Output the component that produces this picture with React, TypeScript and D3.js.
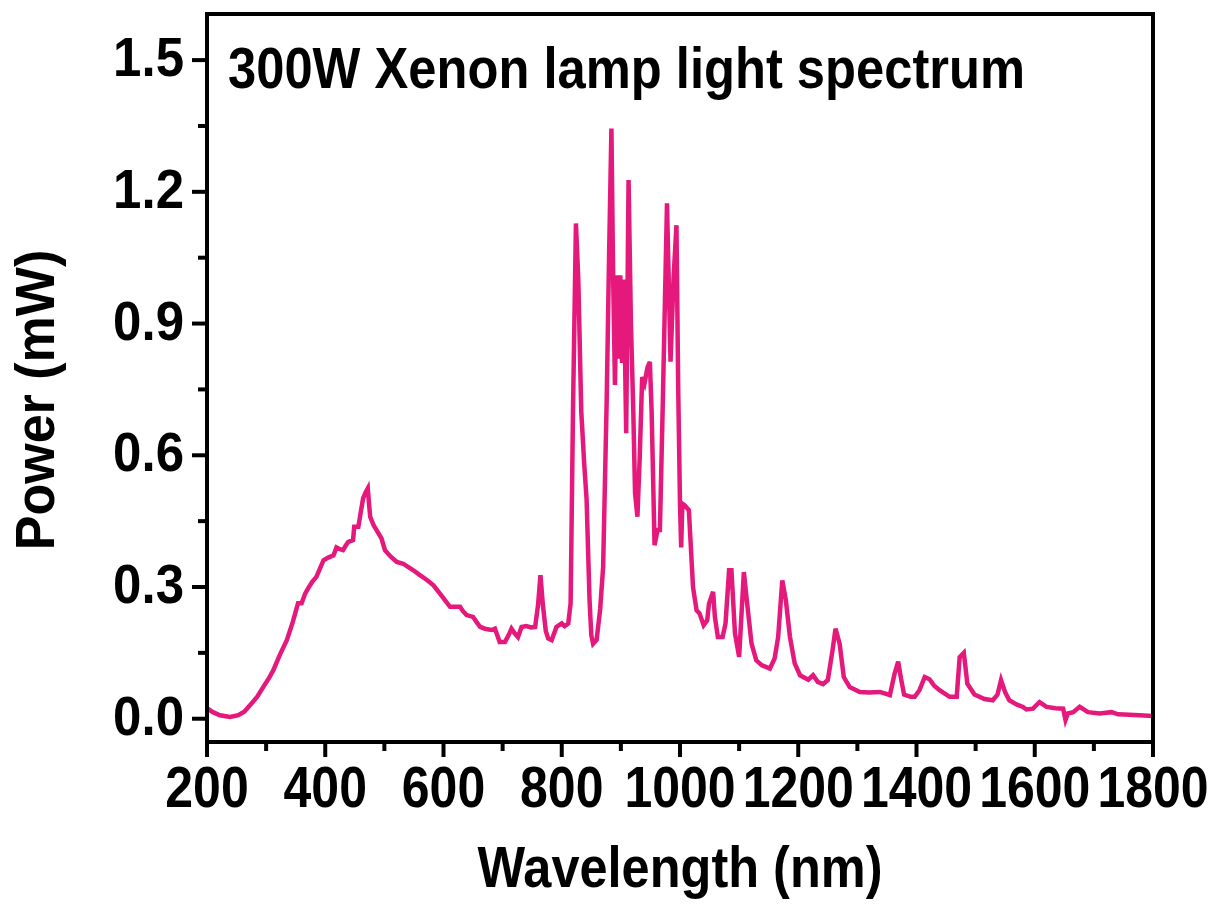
import React from "react";
import * as d3 from "d3";

// Spectral power of a 300 W xenon arc lamp
const wavelength = [
  200, 210, 222, 239, 253, 263, 273, 285, 295, 305, 312, 323, 335, 345, 354, 360, 366, 371, 378, 385,
  391, 397, 405, 414, 419, 425, 430, 435, 439, 447, 449, 456, 460, 464, 468, 472, 474, 476, 482, 487,
  495, 501, 510, 521, 532, 540, 549, 560, 572, 583, 597, 611, 620, 628, 633, 639, 650, 656, 662, 670,
  681, 687, 691, 695, 704, 710, 715, 720, 726, 732, 740, 748, 755, 760, 764, 768, 773, 777, 783, 791,
  800, 805, 811, 815, 819, 824, 828, 833, 838, 842, 847, 850, 853, 859, 865, 870, 876, 880, 884, 887,
  890, 893, 896, 899, 902, 905, 909, 913, 917, 921, 924, 928, 932, 936, 940, 945, 949, 952, 957, 962,
  966, 971, 978, 984, 989, 994, 997, 1000, 1002, 1004, 1008, 1015, 1022, 1028, 1033, 1040, 1046, 1049, 1056, 1059,
  1064, 1072, 1077, 1083, 1087, 1093, 1100, 1108, 1113, 1121, 1129, 1138, 1152, 1160, 1166, 1173, 1179, 1186, 1194, 1203,
  1217, 1225, 1233, 1242, 1250, 1258, 1263, 1270, 1277, 1287, 1304, 1320, 1338, 1355, 1363, 1369, 1374, 1379, 1390, 1397,
  1405, 1414, 1422, 1430, 1439, 1456, 1468, 1473, 1480, 1486, 1498, 1515, 1529, 1537, 1543, 1550, 1557, 1570, 1580, 1586,
  1597, 1608, 1620, 1635, 1648, 1652, 1656, 1665, 1676, 1690, 1710, 1730, 1741, 1760, 1777, 1800,
];

const power = [
  0.024, 0.015, 0.008, 0.004, 0.008, 0.016, 0.031, 0.05, 0.072, 0.093, 0.11, 0.145, 0.179, 0.22, 0.263, 0.263, 0.285, 0.297, 0.312, 0.323,
  0.342, 0.361, 0.367, 0.372, 0.39, 0.386, 0.384, 0.395, 0.403, 0.407, 0.437, 0.437, 0.47, 0.502, 0.515, 0.525, 0.49, 0.46, 0.44, 0.429,
  0.411, 0.384, 0.37, 0.357, 0.353, 0.346, 0.338, 0.327, 0.316, 0.304, 0.28, 0.255, 0.255, 0.255, 0.245, 0.236, 0.232, 0.22, 0.209, 0.205,
  0.202, 0.205, 0.19, 0.175, 0.175, 0.19, 0.205, 0.195, 0.186, 0.209, 0.211, 0.208, 0.209, 0.26, 0.327, 0.26, 0.2, 0.183, 0.179, 0.209,
  0.217, 0.211, 0.217, 0.263, 0.7, 1.128, 1.0, 0.7, 0.58, 0.5, 0.27, 0.19, 0.171, 0.18, 0.25, 0.346, 0.725, 1.05, 1.344, 1.0,
  0.76, 1.01, 0.82, 1.01, 0.81, 1.0, 0.65, 1.227, 0.9, 0.7, 0.513, 0.46, 0.6, 0.778, 0.764, 0.8, 0.813, 0.7, 0.395, 0.43,
  0.43, 0.725, 1.174, 0.813, 1.0, 1.124, 0.75, 0.49, 0.39, 0.49, 0.486, 0.475, 0.3, 0.247, 0.24, 0.213, 0.224, 0.262, 0.289, 0.232,
  0.186, 0.186, 0.217, 0.338, 0.338, 0.194, 0.141, 0.334, 0.27, 0.171, 0.133, 0.122, 0.114, 0.137, 0.186, 0.315, 0.27, 0.186, 0.126, 0.099,
  0.089, 0.099, 0.084, 0.079, 0.088, 0.156, 0.205, 0.171, 0.095, 0.072, 0.061, 0.06, 0.061, 0.054, 0.103, 0.13, 0.09, 0.055, 0.05, 0.05,
  0.065, 0.095, 0.09, 0.075, 0.065, 0.05, 0.05, 0.14, 0.15, 0.08, 0.055, 0.045, 0.042, 0.055, 0.088, 0.06, 0.042, 0.032, 0.027, 0.021,
  0.023, 0.038, 0.027, 0.024, 0.023, -0.003, 0.012, 0.015, 0.027, 0.015, 0.012, 0.015, 0.01, 0.009, 0.008, 0.006,
];

const xTicks = [200, 400, 600, 800, 1000, 1200, 1400, 1600, 1800];
const xMinorTicks = [300, 500, 700, 900, 1100, 1300, 1500, 1700];
const yTicks = [0, 0.3, 0.6, 0.9, 1.2, 1.5];
const yMinorTicks = [0.15, 0.45, 0.75, 1.05, 1.35];

const W = 1213;
const H = 911;
const left = 207;
const right = 1153;
const top = 14;
const bottom = 742;

const FONT = "'Liberation Sans', Arial, Helvetica, sans-serif";
const LINE = "#E5197B";

// Bold label drawn slightly taller than wide (sy = vertical stretch)
function Label(props: {
  x: number;
  y: number;
  size: number;
  anchor?: "start" | "middle" | "end";
  sy?: number;
  rotate?: number;
  children: React.ReactNode;
}) {
  const { x, y, size, anchor = "start", sy = 1.1, rotate = 0, children } = props;
  const t = rotate
    ? `translate(${x},${y}) rotate(${rotate}) scale(1,${sy})`
    : `translate(${x},${y}) scale(1,${sy})`;
  return (
    <text
      transform={t}
      textAnchor={anchor}
      fontFamily={FONT}
      fontWeight="bold"
      fontSize={size}
      fill="#000"
    >
      {children}
    </text>
  );
}

export default function App() {
  const x = d3.scaleLinear().domain([200, 1800]).range([left, right]);
  const y = d3.scaleLinear().domain([-0.053, 1.605]).range([bottom, top]);

  const pts: [number, number][] = wavelength.map((w, i) => [w, power[i]]);
  const line = d3
    .line<[number, number]>()
    .x((d) => x(d[0]))
    .y((d) => y(d[1]));

  const axisW = 4;
  const major = 13;
  const minor = 7;

  return (
    <svg
      width={W}
      height={H}
      viewBox={`0 0 ${W} ${H}`}
      style={{ position: "absolute", left: 0, top: 0, background: "#fff" }}
    >
      <rect x={0} y={0} width={W} height={H} fill="#fff" />
      <defs>
        <clipPath id="plot-clip">
          <rect x={left} y={top} width={right - left} height={bottom - top} />
        </clipPath>
      </defs>

      <path
        d={line(pts) ?? ""}
        fill="none"
        stroke={LINE}
        strokeWidth={4.5}
        strokeLinejoin="miter"
        clipPath="url(#plot-clip)"
      />

      {/* frame */}
      <rect
        x={left}
        y={top}
        width={right - left}
        height={bottom - top}
        fill="none"
        stroke="#000"
        strokeWidth={axisW}
      />

      {/* x ticks */}
      {xTicks.map((t) => (
        <line key={`xt${t}`} x1={x(t)} x2={x(t)} y1={bottom} y2={bottom + major + axisW / 2} stroke="#000" strokeWidth={axisW} />
      ))}
      {xMinorTicks.map((t) => (
        <line key={`xm${t}`} x1={x(t)} x2={x(t)} y1={bottom} y2={bottom + minor + axisW / 2} stroke="#000" strokeWidth={axisW} />
      ))}
      {xTicks.map((t) => (
        <Label key={`xl${t}`} x={x(t)} y={807} size={50} anchor="middle" sy={1.15}>
          {t}
        </Label>
      ))}

      {/* y ticks */}
      {yTicks.map((t) => (
        <line key={`yt${t}`} x1={left - major - axisW / 2} x2={left} y1={y(t)} y2={y(t)} stroke="#000" strokeWidth={axisW} />
      ))}
      {yMinorTicks.map((t) => (
        <line key={`ym${t}`} x1={left - minor - axisW / 2} x2={left} y1={y(t)} y2={y(t)} stroke="#000" strokeWidth={axisW} />
      ))}
      {yTicks.map((t) => (
        <Label key={`yl${t}`} x={184} y={y(t) + 16} size={51} anchor="end" sy={1.08}>
          {t.toFixed(1)}
        </Label>
      ))}

      {/* title */}
      <Label x={228} y={88} size={50.7} sy={1.12}>
        300W Xenon lamp light spectrum
      </Label>

      {/* axis titles */}
      <Label x={(left + right) / 2} y={887} size={50.5} anchor="middle" sy={1.12}>
        Wavelength (nm)
      </Label>
      <Label x={54} y={400} size={52} anchor="middle" rotate={-90} sy={1.08}>
        Power (mW)
      </Label>
    </svg>
  );
}
